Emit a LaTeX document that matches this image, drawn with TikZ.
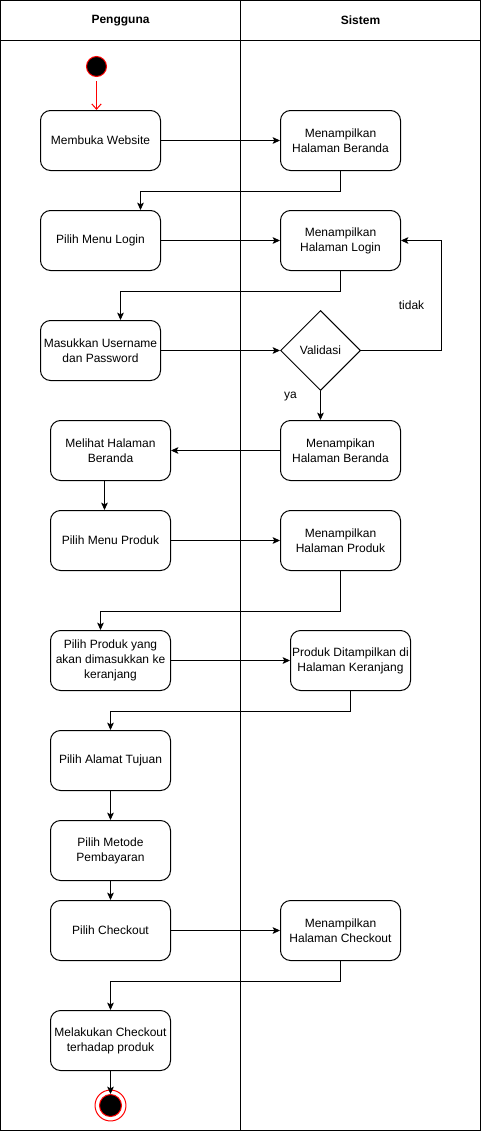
\documentclass[tikz,border=0pt]{standalone}
\usepackage{fontspec}
\setmainfont{Liberation Sans}
\usetikzlibrary{arrows.meta,shapes.geometric}
\begin{document}
\begin{tikzpicture}[x=0.75pt,y=-0.75pt,
  line width=0.75pt,
  lbl/.style={font=\fontsize{9}{11.25}\selectfont},
  act/.style={draw, rounded corners=7.5pt, minimum width=90pt, minimum height=45pt,
              align=center, inner sep=1pt, lbl},
  decision/.style={draw, diamond, minimum width=60pt, minimum height=60pt, inner sep=0pt, lbl},
  flow/.style={-{Stealth[length=5.5pt,width=5pt,inset=1.2pt]}},
  head/.style={font=\bfseries\fontsize{9}{10.5}\selectfont}
]
\useasboundingbox (-0.5,-0.5) rectangle (480.5,1130.5);

% swimlane frame
\draw (0,0) rectangle (480,1130);
\draw (0,40) -- (480,40);
\draw (240,0) -- (240,1130);
\node[head] (hu) at (120,20) {Pengguna};
\node[head] (hs) at (360,20) {Sistem};

% initial state
\node[circle, fill=black, draw=red, minimum size=15pt, inner sep=0pt] (start) at (96,66) {};

% user lane
\node[act] (b1)  at (100,140)  {Membuka Website};
\node[act] (b2)  at (100,240)  {Pilih Menu Login};
\node[act] (b3)  at (100,350)  {Masukkan Username\\dan Password};
\node[act] (b4)  at (110,450)  {Melihat Halaman\\Beranda};
\node[act] (b5)  at (110,540)  {Pilih Menu Produk};
\node[act] (b6)  at (110,660)  {Pilih Produk yang\\akan dimasukkan ke\\keranjang};
\node[act] (b7)  at (110,760)  {Pilih Alamat Tujuan};
\node[act] (b8)  at (110,850)  {Pilih Metode\\Pembayaran};
\node[act] (b9)  at (110,930)  {Pilih Checkout};
\node[act] (b10) at (110,1040) {Melakukan Checkout\\terhadap produk};

% system lane
\node[act] (s1) at (340,140) {Menampilkan\\Halaman Beranda};
\node[act] (s2) at (340,240) {Menampilkan\\Halaman Login};
\node[decision] (v) at (320,350) {Validasi};
\node[act] (s3) at (340,450) {Menampikan\\Halaman Beranda};
\node[act] (s4) at (340,540) {Menampilkan\\Halaman Produk};
\node[act] (s5) at (350,660) {Produk Ditampilkan di\\Halaman Keranjang};
\node[act] (s6) at (340,930) {Menampilkan\\Halaman Checkout};

% final state
\node[circle, fill=black, draw=red, minimum size=16.5pt, inner sep=0pt] (end) at (110,1105) {};
\draw[red] (end.center) circle (11.6pt);

% connectors
\draw[red, shorten <=3pt, -{Straight Barb[length=4pt,width=7pt]}] (start) -- (start |- b1.north);
\draw[flow] (b1) -- (s1);
\draw[flow] (s1.south) -- ++(0,20) -| ([xshift=30pt]b2.north);
\draw[flow] (b2) -- (s2);
\draw[flow] (s2.south) -- ++(0,20) -| ([xshift=15pt]b3.north);
\draw[flow] (b3) -- (v);
\draw[flow] (v.east) -- ++(80,0) |- (s2.east);
\node[lbl] (tidak) at (411,305) {tidak};
\draw[flow] (v.south) -- (v.south |- s3.north);
\node[lbl] (ya) at (290,396) {ya};
\draw[flow] (s3) -- (b4);
\draw[flow] ([xshift=-4.5pt]b4.south) -- ([xshift=-4.5pt]b5.north);
\draw[flow] (b5) -- (s4);
\draw[flow] (s4.south) -- ++(0,40) -| ([xshift=-7.5pt]b6.north);
\draw[flow] (b6) -- (s5);
\draw[flow] (s5.south) -- ++(0,20) -| (b7.north);
\draw[flow] (b7) -- (b8);
\draw[flow] (b8) -- (b9);
\draw[flow] (b9) -- (s6);
\draw[flow] (s6.south) -- ++(0,20) -| (b10.north);
\draw[flow] (b10) -- (end);
\end{tikzpicture}
\end{document}
